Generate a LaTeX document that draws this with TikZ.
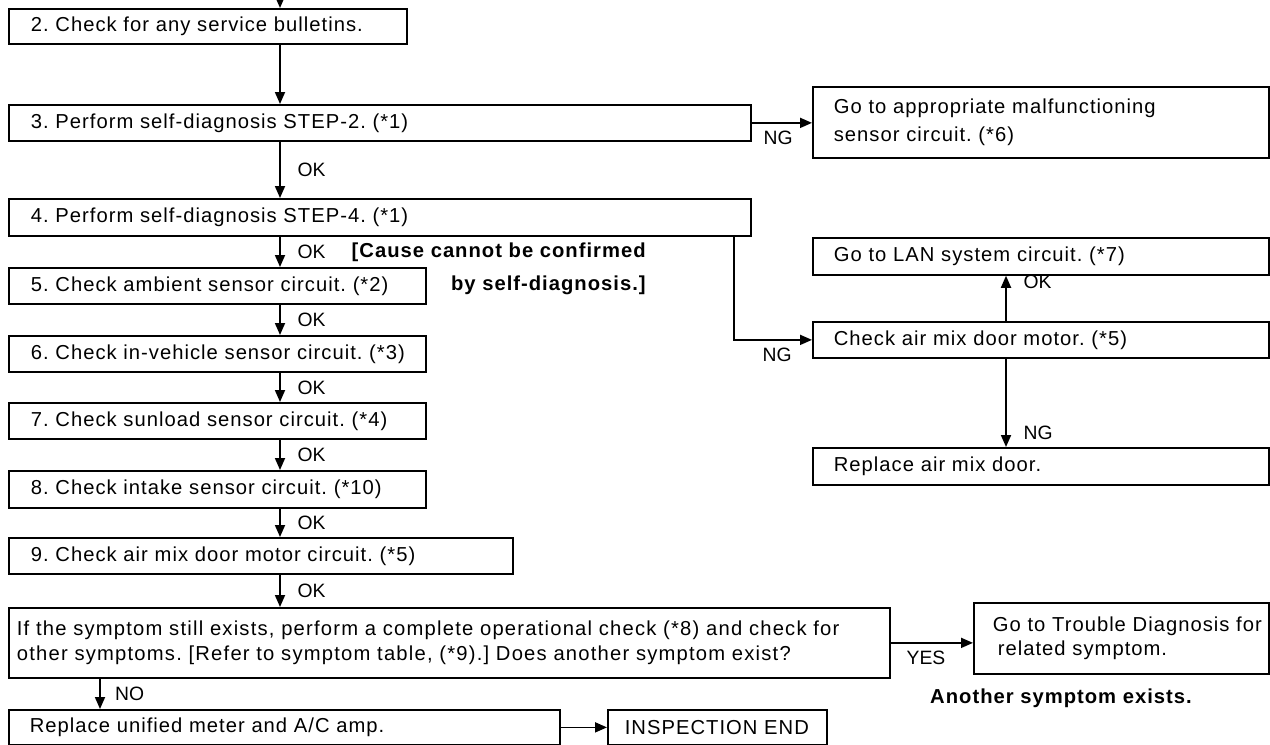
\documentclass[tikz,border=0pt]{standalone}
\usepackage{fontspec}
\setmainfont{Liberation Sans}[LetterSpace=5]
\newfontfamily\widefont{Liberation Sans}[LetterSpace=6]
\newfontfamily\lblfont{Liberation Sans}
\usetikzlibrary{arrows.meta}

\tikzset{
  stepbox/.style={draw, line width=1pt, rectangle, anchor=north west,
    inner xsep=0.44cm, inner ysep=0pt, align=left,
    font=\fontsize{11.5}{14}\selectfont},
  arr/.style={line width=1pt, -{Triangle[length=2.4mm,width=2mm]}},
  lbl/.style={font=\lblfont\fontsize{11}{12}\selectfont, inner sep=1pt},
  note/.style={font=\bfseries\fontsize{11.5}{12}\selectfont, inner sep=0pt},
}

\begin{document}
\frenchspacing
\begin{tikzpicture}[x=0.02cm, y=-0.02cm]
  \useasboundingbox (0,0) rectangle (1270,744);
  \coordinate (start) at (280,0);
  \coordinate (axis) at (280,0);
  \coordinate (ngx) at (734,0);
  \coordinate (upx) at (1006,0);
  \coordinate (nox) at (100,0);

  % left column
  \node[stepbox, text width=7.08cm, minimum height=0.70cm] (s2) at (8,8) {2. Check for any service bulletins.};
  \node[stepbox, text width=13.96cm, minimum height=0.72cm] (s3) at (8,104) {3. Perform self-diagnosis STEP-2. (*1)};
  \node[stepbox, text width=13.96cm, minimum height=0.74cm] (s4) at (8,198) {4. Perform self-diagnosis STEP-4. (*1)};
  \node[stepbox, text width=7.46cm, minimum height=0.72cm] (s5) at (8,267) {\mbox{5. Check ambient sensor circuit. (*2)}};
  \node[stepbox, text width=7.46cm, minimum height=0.72cm] (s6) at (8,335) {\mbox{6. Check in-vehicle sensor circuit. (*3)}};
  \node[stepbox, text width=7.46cm, minimum height=0.72cm] (s7) at (8,402) {\mbox{7. Check sunload sensor circuit. (*4)}};
  \node[stepbox, text width=7.46cm, minimum height=0.74cm] (s8) at (8,470) {\mbox{8. Check intake sensor circuit. (*10)}};
  \node[stepbox, text width=9.20cm, minimum height=0.72cm] (s9) at (8,537) {9. Check air mix door motor circuit. (*5)};
  \node[stepbox, inner xsep=0.16cm, text width=17.30cm, minimum height=1.40cm,
        font=\widefont\fontsize{11.5}{14}\selectfont] (sym) at (8,607)
    {\mbox{If the symptom still exists, perform a complete operational check (*8) and check for}\\
     other symptoms. [Refer to symptom table, (*9).] Does another symptom exist?};
  \node[stepbox, inner xsep=0.42cm, text width=10.18cm, minimum height=0.70cm] (amp) at (8,709) {Replace unified meter and A/C amp.};
  \node[stepbox, inner xsep=0.34cm, text width=3.70cm, minimum height=0.70cm] (end) at (607,709) {\mbox{INSPECTION END}};

  % right column
  \node[stepbox, inner xsep=0.42cm, text width=8.28cm, minimum height=1.42cm,
        font=\fontsize{11.5}{16}\selectfont] (mal) at (812,86)
    {Go to appropriate malfunctioning\\sensor circuit. (*6)};
  \node[stepbox, inner xsep=0.42cm, text width=8.28cm, minimum height=0.74cm] (lan) at (812,237) {Go to LAN system circuit. (*7)};
  \node[stepbox, inner xsep=0.42cm, text width=8.28cm, minimum height=0.72cm] (motor) at (812,321) {Check air mix door motor. (*5)};
  \node[stepbox, inner xsep=0.42cm, text width=8.28cm, minimum height=0.74cm] (door) at (812,447) {Replace air mix door.};
  \node[stepbox, inner xsep=0.38cm, text width=5.14cm, minimum height=1.42cm] (diag) at (973,602)
    {\mbox{Go to Trouble Diagnosis for}\\\hspace{0.1cm}related symptom.};

  % notes
  \node[note, anchor=east] (cause1) at (646,252) {[Cause cannot be confirmed};
  \node[note, anchor=east] (cause2) at (646,285) {by self-diagnosis.]};
  \node[note] (another) at (1061,698) {Another symptom exists.};

  % connectors
  \draw[arr] (start) -- (s2.north -| axis);
  \draw[arr] (s2.south -| axis) -- (s3.north -| axis);
  \draw[arr] (s3.south -| axis) -- node[lbl, right=0.3cm] (ok3) {OK} (s4.north -| axis);
  \draw[arr] (s4.south -| axis) -- node[lbl, right=0.3cm] (ok4) {OK} (s5.north -| axis);
  \draw[arr] (s5.south -| axis) -- node[lbl, right=0.3cm] (ok5) {OK} (s6.north -| axis);
  \draw[arr] (s6.south -| axis) -- node[lbl, right=0.3cm] (ok6) {OK} (s7.north -| axis);
  \draw[arr] (s7.south -| axis) -- node[lbl, right=0.3cm] (ok7) {OK} (s8.north -| axis);
  \draw[arr] (s8.south -| axis) -- node[lbl, right=0.3cm] (ok8) {OK} (s9.north -| axis);
  \draw[arr] (s9.south -| axis) -- node[lbl, right=0.3cm] (ok9) {OK} (sym.north -| axis);
  \draw[arr] (sym.south -| nox) -- node[lbl, right=0.25cm] (no) {NO} (amp.north -| nox);
  \draw[arr] (amp.east) -- (end.west);
  \draw[arr] (sym.east) -- node[lbl, below=3pt, pos=0.43] (yes) {YES} (sym.east -| diag.west);

  \draw[arr] (s3.east) -- node[lbl, below=3pt, pos=0.44] (ng3) {NG} (s3.east -| mal.west);
  \draw[arr] (s4.south -| ngx) |- node[lbl, below=3pt, pos=0.776] (ng4) {NG} (motor.west);
  \draw[arr] (motor.north -| upx) -- node[lbl, right=0.3cm, pos=0.87] (okm) {OK} (lan.south -| upx);
  \draw[arr] (motor.south -| upx) -- node[lbl, right=0.3cm, pos=0.84] (ngm) {NG} (door.north -| upx);
\end{tikzpicture}
\end{document}
